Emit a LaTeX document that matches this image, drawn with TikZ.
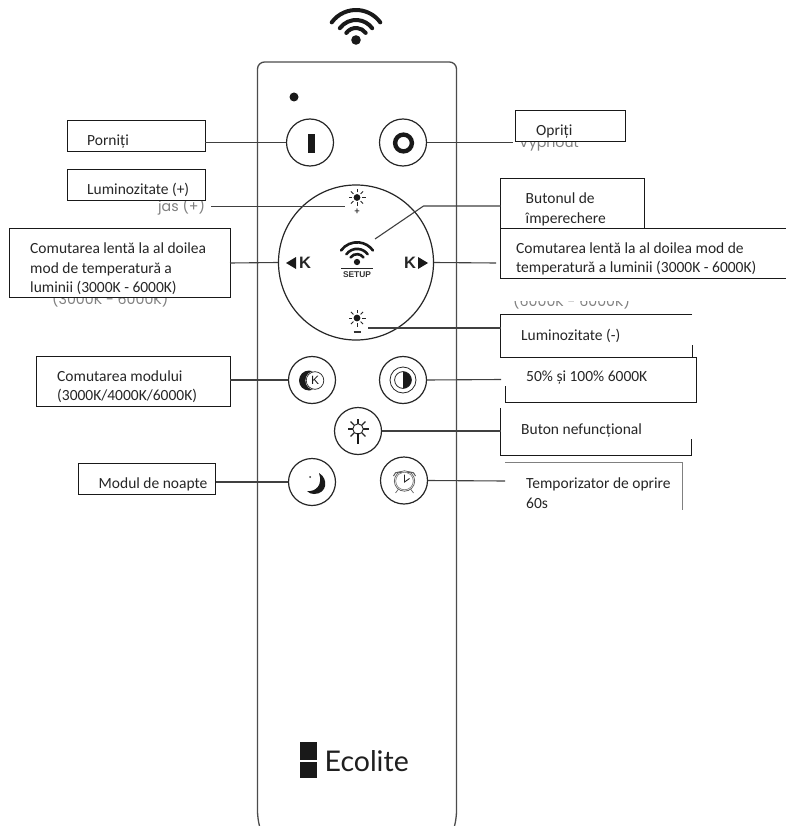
\documentclass[tikz,border=0pt]{standalone}
\usepackage{fontspec}
\setmainfont{Carlito}
\newfontfamily\ghostfont{Poppins}
\newfontfamily\logofont{Lato}
\newfontfamily\keyfont{Liberation Sans}
\tikzset{
  bodyline/.style={draw=black!70,line width=1.3pt},
  btn/.style={circle,draw=black!85,line width=1.2pt,minimum size=47pt,inner sep=0pt,fill=none},
  lead/.style={draw=black!75,line width=1.1pt},
  boxline/.style={draw=black!90,line width=0.9pt},
  lbox/.style={boxline,fill=white},
  lbl/.style={anchor=west,inner sep=0pt,text height=11.5pt,text depth=2.5pt,font=\fontsize{15.5}{17}\selectfont,text=black!85},
  ghost/.style={anchor=west,inner sep=0pt,font=\ghostfont\fontsize{14.2}{16}\selectfont,text=black!50},
}
\newcommand{\wifi}[4]{% x y scale lw
  \begin{scope}[shift={(#1,#2)}]
    \fill[black!90] (0,0) circle ({0.3*#3});
    \foreach \r in {0.75,1.25,1.875}{
      \draw[black!90,line width=#4,line cap=round] (-144:{\r*#3}) arc[start angle=-144,end angle=-36,radius={\r*#3}];
    }
  \end{scope}}
\newcommand{\sunicon}[2]{%
  \begin{scope}[shift={(#1,#2)}]
    \fill[black!90] (0,0) circle (3.4pt);
    \foreach \a in {0,45,...,315}{\draw[black!85,line width=0.8pt] (\a:5pt) -- (\a:8.5pt);}
  \end{scope}}
\begin{document}
\begin{tikzpicture}[x=1pt,y=-1pt]
\useasboundingbox (0,0) rectangle (785,826);
\fill[white] (0,0) rectangle (785,826);
% wifi
\wifi{356}{40}{16}{4pt}
% body
\draw[bodyline,rounded corners=7pt] (261,832) -- (257.5,818) -- (257.5,62) -- (456.5,62) -- (456.5,818) -- (453,832);
\fill[black!90] (294,97) circle (4.5);
% ghost text
\node[ghost] (g1) at (158,207) {jas (+)};
\node[ghost] (g2) at (52,299) {(3000K - 6000K)};
\node[ghost] (g3) at (519,144) {Vypnout};
\node[ghost] (g4) at (513,301) {(6000K - 6000K)};
\fill[white] (505,280) rectangle (700,300.5);
% buttons
\node[btn] (bI) at (310,142.5) {};
\node[btn] (bO) at (403,142.5) {};
\node[circle,draw=black!85,line width=1.2pt,minimum size=155pt,inner sep=0pt] (big) at (356,262.5) {};
\node[btn] (bK) at (312,380) {};
\node[btn] (bC) at (403,380) {};
\node[btn] (bS) at (358,431) {};
\node[btn] (bM) at (312,482) {};
\node[btn] (bA) at (404,480.5) {};
% button icons
\fill[black!90] (307.5,134) rectangle (314.5,153.5);
\draw[black!90,line width=4.4pt] (403.5,143) circle (8.4);
% sun + -
\sunicon{357}{197.5}
\node[inner sep=0pt,font=\bfseries\fontsize{10}{10}\selectfont,text=black!80] (plus) at (357,212) {+};
\sunicon{357}{318}
\draw[black!80,line width=1.2pt] (353.5,332) -- (360.5,332);
% central wifi
\wifi{357}{262}{10.5}{2.6pt}
\draw[black!85,line width=0.9pt] (341,268.5) -- (373,268.5);
\node[inner sep=0pt,font=\keyfont\bfseries\fontsize{8.4}{9}\selectfont,text=black!80] (setup) at (357,275) {SETUP};
% K arrows
\fill[black!90] (286,263) -- (296,257) -- (296,269) -- cycle;
\node[inner sep=0pt,font=\keyfont\bfseries\fontsize{16.5}{15}\selectfont,text=black!85] (kl) at (305,263) {K};
\fill[black!90] (428,263) -- (418,257) -- (418,269) -- cycle;
\node[inner sep=0pt,font=\keyfont\bfseries\fontsize{16.5}{15}\selectfont,text=black!85] (kr) at (410,263) {K};
% K-button icon
\fill[black!90] (309,380.5) circle (10);
\fill[white] (315,380.5) circle (9.6);
\draw[black!85,line width=0.7pt] (315,380.5) circle (8.8);
\node[inner sep=0pt,font=\keyfont\fontsize{12}{12}\selectfont,text=black!90] (kk) at (315,380.5) {K};
% contrast icon
\draw[black!85,line width=0.8pt] (403,380) circle (13);
\draw[black!85,line width=0.8pt] (403,380) circle (8.4);
\fill[black!90] (403,371.6) arc[start angle=-90,end angle=90,radius=8.4] -- cycle;
% lamp icon
\begin{scope}[shift={(358,429)}]
  \draw[black!85,line width=0.9pt] (0,0) circle (5.2);
  \foreach \a in {-135,-90,-45,0,45,135,180}{\draw[black!85,line width=1.1pt] (\a:5.2) -- (\a:10.5);}
  \fill[black!90] (-1.4,3.5) rectangle (1.4,14.5);
\end{scope}
% moon
\fill[black!90] (319,473) .. controls (329,479) and (327,494) .. (314,494) .. controls (311,494) and (309,493) .. (307,491) .. controls (316,492) and (323,485) .. (319,473) -- cycle;
\fill[black!80] (310,477) circle (1);
% clock
\begin{scope}[shift={(404.5,481)}]
  \draw[black!65,line width=0.7pt] (0,0) circle (10.2);
  \draw[black!55,line width=0.6pt] (0,0) circle (8.8);
  \draw[black!65,line width=1pt] (-11,-5) arc[start angle=-170,end angle=-50,radius=5];
  \draw[black!65,line width=1pt] (11,-5) arc[start angle=-10,end angle=-130,radius=5];
  \draw[black!85,line width=0.9pt] (0,-6.5) -- (0,1) -- (5,-2.5);
  \draw[black!60,line width=0.7pt] (-6,8) -- (-9,12) (6,8) -- (9,12);
\end{scope}
% label boxes
\draw[lbox] (67,120) rectangle (205,151);
\coordinate (aPor) at (205,142.5);
\node[lbl] (tPor) at (87,141.5) {Porniți};
\draw[lbox] (67,169) rectangle (205,200);
\node[lbl] (tLp) at (87,190) {Luminozitate (+)};
\draw[lbox] (9.5,228) rectangle (230,297);
\coordinate (aCl) at (230,263);
\node[lbl] (tCl1) at (30,249) {Comutarea lentă la al doilea};
\node[lbl] (tCl2) at (30,269) {mod de temperatură a};
\node[lbl] (tCl3) at (30,288) {luminii (3000K - 6000K)};
\draw[lbox] (515.5,110.5) rectangle (625,141);
\node[lbl] (tOp) at (536,131) {Opriți};
\draw[lbox] (500.5,178.5) rectangle (644,229);
\coordinate (aPair) at (500.5,206);
\node[lbl] (tB1) at (525.5,199) {Butonul de};
\node[lbl] (tB2) at (525.5,219) {împerechere};
\draw[lbox] (500.5,228) rectangle (790,278);
\coordinate (aCr) at (496,263);
\node[lbl] (tCr1) at (516,249) {Comutarea lentă la al doilea mod de};
\node[lbl] (tCr2) at (516,268) {temperatură a luminii (3000K - 6000K)};
% partial boxes
\draw[boxline] (692,314) -- (500.5,314) -- (500.5,357.5) -- (692,357.5) -- (692,345);
\node[lbl] (tLm) at (521,336) {Luminozitate (-)};
\coordinate (aLm) at (500.5,328);
\draw[boxline] (505,357) -- (696,357) -- (696,402) -- (505.5,402) -- (505.5,386);
\node[lbl] (t50) at (526,377) {50\% și 100\% 6000K};
\coordinate (a50) at (501,379.5);
\draw[boxline] (500.5,408) -- (500.5,455) -- (691.5,455) -- (691.5,439);
\node[lbl] (tBn) at (521,430) {Buton nefuncțional};
\coordinate (aBn) at (500.5,431);
\draw[draw=black!50,line width=0.6pt] (505,462.5) -- (682,462.5) -- (682,510);
\node[lbl] (tT1) at (526,484) {Temporizator de oprire};
\node[lbl] (tT2) at (526,504) {60s};
\coordinate (aT) at (505,481);
\draw[lbox] (36.5,356) rectangle (230,406);
\node[lbl] (tK1) at (57,377) {Comutarea modului};
\node[lbl] (tK2) at (57,396) {(3000K/4000K/6000K)};
\draw[lbox] (78,463) rectangle (215.5,494);
\node[lbl] (tM) at (98.5,484) {Modul de noapte};
% connectors
\coordinate (aKb) at (230,380);
\coordinate (aMb) at (215.5,482);
\coordinate (aO) at (513,142.5);
\coordinate (sunT) at (345,206.5);
\coordinate (ghostEnd) at (211,206.5);
\coordinate (pairStart) at (375,239);
\coordinate (sunB) at (368,328);
\draw[lead] (aPor) -- (bI.west);
\draw[lead] (bO.east) -- (aO);
\draw[lead] (ghostEnd) -- (sunT);
\draw[lead] (aCl) -- (big.west);
\draw[lead] (pairStart) -- (423.5,206) -- (aPair);
\draw[lead] (big.east) -- (aCr);
\draw[lead] (sunB) -- (aLm);
\draw[lead] (aKb) -- (bK.west);
\draw[lead] (bC.east) -- (a50);
\draw[lead] (bS.east) -- (aBn);
\draw[lead] (aMb) -- (bM.west);
\draw[lead] (bA.east) -- (aT);
% logo
\fill[black!90] (299.5,742) rectangle (317,760);
\fill[black!90] (299.5,762) rectangle (317,778);
\node[anchor=west,inner sep=0pt,font=\logofont\fontsize{28.5}{28}\selectfont,text=black!88] (logo) at (324.5,761) {Ecolite};
\end{tikzpicture}
\end{document}
